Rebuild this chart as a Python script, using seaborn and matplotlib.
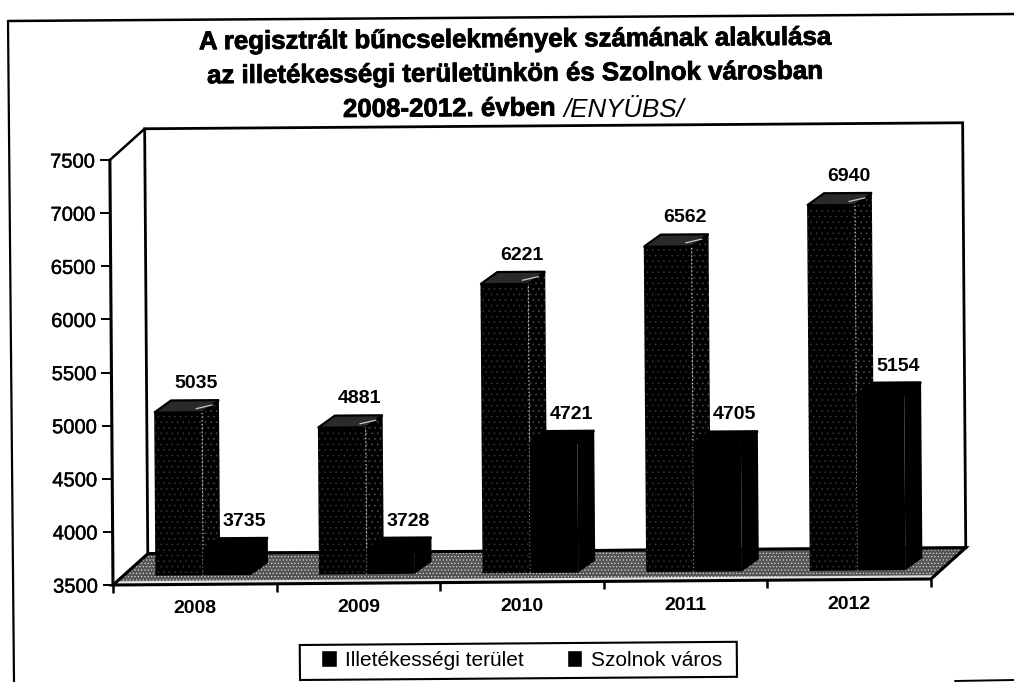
import matplotlib
matplotlib.use('Agg')
import matplotlib.pyplot as plt
import matplotlib.patheffects as pe
from matplotlib.lines import Line2D
from matplotlib.patches import Polygon, Patch, Rectangle
from matplotlib.transforms import Affine2D
import pandas as pd
import seaborn as sns

# adatok
years = ['2008', '2009', '2010', '2011', '2012']
illetekessegi = [5035, 4881, 6221, 6562, 6940]
szolnok = [3735, 3728, 4721, 4705, 5154]
series_names = ['Illetékességi terület', 'Szolnok város']
y_ticks = [3500, 4000, 4500, 5000, 5500, 6000, 6500, 7000, 7500]

df = pd.DataFrame({
    'year': years * 2,
    'value': illetekessegi + szolnok,
    'series': [series_names[0]] * 5 + [series_names[1]] * 5,
})

sns.set_style('white')
plt.rcParams['font.family'] = ['Liberation Sans', 'DejaVu Sans']
plt.rcParams['hatch.linewidth'] = 0.5
plt.rcParams['text.color'] = 'black'
plt.rcParams['xtick.color'] = 'black'
plt.rcParams['ytick.color'] = 'black'

W, H = 1014, 682
fig = plt.figure(figsize=(W / 100, H / 100), dpi=100)
ax = fig.add_axes([113 / W, (H - 585) / H, 818 / W, 425 / H])

sns.barplot(data=df, x='year', y='value', hue='series', ax=ax, width=0.585,
            gap=0, palette=['black', 'black'], saturation=1, legend=True)
handles, labels = ax.get_legend_handles_labels()
ax.get_legend().remove()

ax.set_xlim(-0.5, 4.5)
ax.set_ylim(3500, 7500)
ax.set_xlabel('')
ax.set_ylabel('')
ax.set_yticks(y_ticks)
ax.patch.set_alpha(0)
for s in ax.spines.values():
    s.set_visible(False)

# pixel -> adat
px_x = 5 / 818
px_y = 4000 / 425

# 3D melyseg
wall_dx, wall_dy = 35 * px_x, 31 * px_y
off_x, off_y = 8.5 * px_x, 9 * px_y
bar_dx, bar_dy = 17 * px_x, 12 * px_y

lo, hi = ax.get_ylim()
xl, xr = ax.get_xlim()
extra = []

# fal es padlo
wall = Polygon([(xl + wall_dx, lo + wall_dy), (xr + wall_dx, lo + wall_dy),
                (xr + wall_dx, hi + wall_dy), (xl + wall_dx, hi + wall_dy)],
               closed=True, fc='white', ec='black', lw=2, zorder=0.5, clip_on=False)
floor = Polygon([(xl, lo), (xr, lo), (xr + wall_dx, lo + wall_dy), (xl + wall_dx, lo + wall_dy)],
                closed=True, fc='#555555', ec='#d8d8d8', hatch='.....', lw=0, zorder=0.6, clip_on=False)
strip = Polygon([(xl, lo), (xr, lo), (xr + 0.12 * wall_dx, lo + 0.12 * wall_dy),
                 (xl + 0.12 * wall_dx, lo + 0.12 * wall_dy)],
                closed=True, fc='#e4e4e4', lw=0, zorder=0.65, clip_on=False)
outline = Polygon([(xl, lo), (xr, lo), (xr + wall_dx, lo + wall_dy), (xl + wall_dx, lo + wall_dy)],
                  closed=True, fc='none', ec='black', lw=2.2, zorder=0.7, clip_on=False)
extra += [wall, floor, strip, outline]
extra += ax.plot([xl, xl + wall_dx], [hi, hi + wall_dy], color='black', lw=1.8, clip_on=False, zorder=0.8)
extra += ax.plot([xl, xl], [lo, hi], color='black', lw=2.2, clip_on=False, zorder=0.8)

# hasabok
for i, cont in enumerate(ax.containers):
    for p in cont:
        v = p.get_height()
        p.set_x(p.get_x() + off_x)
        p.set_y(lo + off_y)
        p.set_height(v - lo)
        p.set_clip_on(False)
        x0, x1 = p.get_x(), p.get_x() + p.get_width()
        y0, y1 = lo + off_y, v + off_y
        order = p.get_x() * 10 + 5
        p.set_zorder(order)
        p.set_linewidth(0)
        if i == 0:
            p.set_edgecolor('#333333')
            p.set_hatch('...')
        else:
            p.set_edgecolor('black')
        extra.append(p)
        side = Polygon([(x1, y0), (x1 + bar_dx, y0 + bar_dy), (x1 + bar_dx, y1 + bar_dy), (x1, y1)],
                       closed=True, fc='black', ec='#4a4a4a' if i == 0 else 'black',
                       hatch='...' if i == 0 else None, lw=0, zorder=order + 0.1, clip_on=False)
        top = Polygon([(x0, y1), (x1, y1), (x1 + bar_dx, y1 + bar_dy), (x0 + bar_dx, y1 + bar_dy)],
                      closed=True, fc='#2a2a2a' if i == 0 else 'black', ec='black', lw=1.6,
                      zorder=order + 0.2, clip_on=False)
        extra += [side, top]
        if i == 0:
            extra += ax.plot([x1, x1], [y0, y1], color='#d0d0d0', lw=0.9, ls=(0, (1, 2)),
                             zorder=order + 0.3, clip_on=False)
            extra += ax.plot([x1 - 0.35 * bar_dx, x1 + 0.6 * bar_dx], [y1 + 0.3 * bar_dy, y1 + 0.6 * bar_dy],
                             color='#c8c8c8', lw=0.9, zorder=order + 0.3, clip_on=False)
        extra.append(ax.text((x0 + x1) / 2 + bar_dx * 1.05, y1 + bar_dy + 16.5 * px_y, f'{int(v)}',
                             ha='center', va='center', fontsize=14, fontweight='bold',
                             color='black', zorder=60, clip_on=False))
for art in extra:
    if isinstance(art, Polygon):
        ax.add_patch(art)

# tengelyek
ax.set_xticks([k - 0.5 for k in range(6)], minor=True)
ax.tick_params(axis='x', which='minor', bottom=True, length=6, width=1.8, color='black')
ax.tick_params(axis='x', which='major', bottom=False, pad=8)
ax.tick_params(axis='y', which='major', left=True, length=7, width=1.4, color='black', pad=4)
for lab in ax.get_xticklabels():
    lab.set_fontsize(14)
    lab.set_fontweight('bold')
for lab in ax.get_yticklabels():
    lab.set_fontsize(14.5)
    lab.set_path_effects([pe.withStroke(linewidth=0.3, foreground='black')])

# a szkennelt kep enyhen el van forgatva
rot = Affine2D().rotate_deg_around(113, H - 585, 0.42)
for art in extra:
    if isinstance(art, Patch):
        art.set_transform(art.get_data_transform() + rot)
    else:
        art.set_transform(art.get_transform() + rot)
ticks = ax.xaxis.get_major_ticks() + ax.xaxis.get_minor_ticks() + ax.yaxis.get_major_ticks()
for t in ticks:
    t.tick1line.set_transform(t.tick1line.get_transform() + rot)
    t.label1.set_transform(t.label1.get_transform() + rot)

# cim
stroke = [pe.withStroke(linewidth=0.6, foreground='black')]
title_kw = dict(ha='center', va='center', fontsize=18.6, fontweight='bold', rotation=0.42,
                rotation_mode='anchor', path_effects=stroke)
fig.text(515 / W, 1 - 40 / H, 'A regisztrált bűncselekmények számának alakulása', **title_kw)
fig.text(515 / W, 1 - 74 / H, 'az illetékességi területünkön és Szolnok városban', **title_kw)
t3 = fig.text(343 / W, 1 - 110 / H, '2008-2012. évben ', ha='left', va='center', fontsize=18.6,
              fontweight='bold', rotation=0.42, rotation_mode='anchor', path_effects=stroke)
ax.annotate('/ENYÜBS/', xy=(1, 0), xycoords=t3, va='bottom', ha='left', fontsize=18.6,
            style='italic', annotation_clip=False)

# keret
fig.add_artist(Line2D([8 / W, 1], [1 - 21 / H, 1 - 14 / H], color='black', lw=1.8))
fig.add_artist(Line2D([8 / W, 14 / W], [1 - 21 / H, 0], color='black', lw=1.6))
fig.add_artist(Line2D([955 / W, 1], [1 - 681 / H, 1 - 680 / H], color='black', lw=1.4))

# jelmagyarazat
box = Rectangle((300, H - 680), 437, 35, fc='white', ec='black', lw=1.5, zorder=-1,
                transform=Affine2D().rotate_deg_around(300, H - 680, 0.42))
fig.add_artist(box)
leg = ax.legend(handles, labels, ncol=2, loc='center', bbox_to_anchor=(521.5 / W, 1 - 660 / H),
                bbox_transform=fig.transFigure, fontsize=15, frameon=False,
                handlelength=0.75, handleheight=0.9, handletextpad=0.4, columnspacing=2.05)

fig.savefig('out.png', dpi=100)
